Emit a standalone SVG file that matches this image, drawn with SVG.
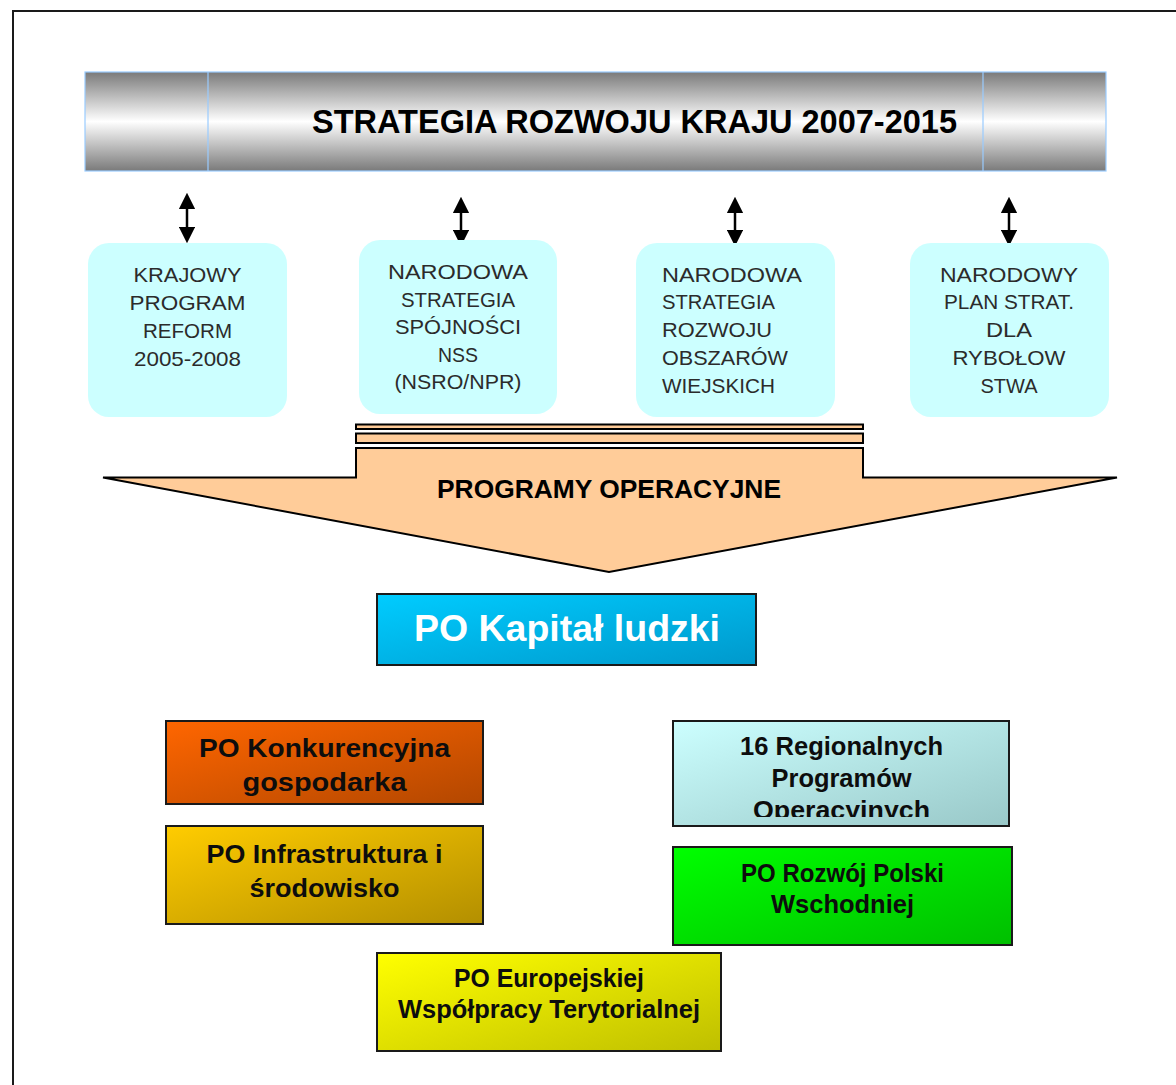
<svg xmlns="http://www.w3.org/2000/svg" width="1176" height="1085" viewBox="0 0 1176 1085">
  <defs>
    <linearGradient id="gBanner" x1="0" y1="0" x2="0" y2="1">
      <stop offset="0" stop-color="#7a7a7a"/>
      <stop offset="0.5" stop-color="#ffffff"/>
      <stop offset="1" stop-color="#7a7a7a"/>
    </linearGradient>
    <linearGradient id="gKapital" x1="0" y1="0" x2="1" y2="1">
      <stop offset="0" stop-color="#00ccff"/>
      <stop offset="1" stop-color="#0099cc"/>
    </linearGradient>
    <linearGradient id="gKonk" x1="0" y1="0" x2="1" y2="1">
      <stop offset="0" stop-color="#ff6600"/>
      <stop offset="1" stop-color="#b34700"/>
    </linearGradient>
    <linearGradient id="gInfra" x1="0" y1="0" x2="1" y2="1">
      <stop offset="0" stop-color="#ffcc00"/>
      <stop offset="1" stop-color="#b38f00"/>
    </linearGradient>
    <linearGradient id="gRegion" x1="0" y1="0" x2="1" y2="1">
      <stop offset="0" stop-color="#ccffff"/>
      <stop offset="1" stop-color="#99c8c8"/>
    </linearGradient>
    <linearGradient id="gWschod" x1="0" y1="0" x2="1" y2="1">
      <stop offset="0" stop-color="#00ff00"/>
      <stop offset="1" stop-color="#00bf00"/>
    </linearGradient>
    <linearGradient id="gEurop" x1="0" y1="0" x2="1" y2="1">
      <stop offset="0" stop-color="#ffff00"/>
      <stop offset="1" stop-color="#bfbf00"/>
    </linearGradient>
    <marker id="head" viewBox="0 0 10 10" refX="5" refY="5" markerWidth="6.6" markerHeight="6.6" orient="auto-start-reverse" markerUnits="strokeWidth">
      <path d="M0,0 L10,5 L0,10 Z" fill="#000"/>
    </marker>
    <clipPath id="clipKonk"><rect x="166" y="721" width="317" height="75"/></clipPath>
    <clipPath id="clipRegion"><rect x="673" y="721" width="336" height="96"/></clipPath>
  </defs>
  <style>
    .page { fill: none; stroke: #1a1a1a; stroke-width: 2; }
    .soft { fill: #ccffff; }
    .soft-t { font-family: "Liberation Sans", Arial, sans-serif; font-size: 21px; fill: #2b2b2b; }
    .bold { font-family: "Liberation Sans", Arial, sans-serif; font-weight: bold; fill: #000; }
    .po { stroke: #1a1a1a; stroke-width: 2; }
    .po-t { font-family: "Liberation Sans", Arial, sans-serif; font-weight: bold; font-size: 25px; fill: #0d0d0d; text-anchor: middle; }
    .link { stroke: #000; stroke-width: 2.5; fill: none; marker-start: url(#head); marker-end: url(#head); }
    .arrow { fill: #ffcc99; stroke: #000; stroke-width: 2; stroke-linejoin: miter; }
  </style>

  <!-- page frame (top and left edges) -->
  <path class="page" d="M13,1085 L13,11 L1176,11"/>

  <!-- strategy banner -->
  <g id="strategia">
    <rect x="85" y="72" width="1021" height="99" fill="url(#gBanner)" stroke="#99ccff" stroke-width="1.2"/>
    <line x1="208" y1="72" x2="208" y2="171" stroke="#99ccff" stroke-width="1.2"/>
    <line x1="983" y1="72" x2="983" y2="171" stroke="#99ccff" stroke-width="1.2"/>
    <text class="bold" x="312" y="133" font-size="33" textLength="645" lengthAdjust="spacingAndGlyphs">STRATEGIA ROZWOJU KRAJU 2007-2015</text>
  </g>

  <!-- double-headed links between banner and programme boxes -->
  <g id="connectors">
    <line class="link" x1="187" y1="201" x2="187" y2="235"/>
    <line class="link" x1="461" y1="205" x2="461" y2="238"/>
    <line class="link" x1="735" y1="205" x2="735" y2="238"/>
    <line class="link" x1="1009" y1="205" x2="1009" y2="238"/>
  </g>

  <g id="krajowy-program">
    <rect class="soft" x="88" y="243" width="199" height="174" rx="21"/>
    <g class="soft-t" text-anchor="middle">
      <text x="187.5" y="282" textLength="108" lengthAdjust="spacingAndGlyphs">KRAJOWY</text>
      <text x="187.5" y="310" textLength="116" lengthAdjust="spacingAndGlyphs">PROGRAM</text>
      <text x="187.5" y="338" textLength="89" lengthAdjust="spacingAndGlyphs">REFORM</text>
      <text x="187.5" y="366" textLength="107" lengthAdjust="spacingAndGlyphs">2005-2008</text>
    </g>
  </g>

  <g id="nss">
    <rect class="soft" x="359" y="240" width="198" height="174" rx="21"/>
    <g class="soft-t" text-anchor="middle">
      <text x="458" y="279" textLength="140" lengthAdjust="spacingAndGlyphs">NARODOWA</text>
      <text x="458" y="307" textLength="114" lengthAdjust="spacingAndGlyphs">STRATEGIA</text>
      <text x="458" y="334" textLength="126" lengthAdjust="spacingAndGlyphs">SPÓJNOŚCI</text>
      <text x="458" y="362" textLength="40" lengthAdjust="spacingAndGlyphs">NSS</text>
      <text x="458" y="389" textLength="127" lengthAdjust="spacingAndGlyphs">(NSRO/NPR)</text>
    </g>
  </g>

  <g id="obszary-wiejskie">
    <rect class="soft" x="636" y="243" width="199" height="174" rx="21"/>
    <g class="soft-t">
      <text x="662" y="282" textLength="140" lengthAdjust="spacingAndGlyphs">NARODOWA</text>
      <text x="662" y="309" textLength="113" lengthAdjust="spacingAndGlyphs">STRATEGIA</text>
      <text x="662" y="337" textLength="110" lengthAdjust="spacingAndGlyphs">ROZWOJU</text>
      <text x="662" y="365" textLength="126" lengthAdjust="spacingAndGlyphs">OBSZARÓW</text>
      <text x="662" y="393" textLength="113" lengthAdjust="spacingAndGlyphs">WIEJSKICH</text>
    </g>
  </g>

  <g id="rybolowstwo">
    <rect class="soft" x="910" y="243" width="199" height="174" rx="21"/>
    <g class="soft-t" text-anchor="middle">
      <text x="1009" y="282" textLength="138" lengthAdjust="spacingAndGlyphs">NARODOWY</text>
      <text x="1009" y="309" textLength="130" lengthAdjust="spacingAndGlyphs">PLAN STRAT.</text>
      <text x="1009" y="337" textLength="46" lengthAdjust="spacingAndGlyphs">DLA</text>
      <text x="1009" y="365" textLength="113" lengthAdjust="spacingAndGlyphs">RYBOŁOW</text>
      <text x="1009" y="393" textLength="57" lengthAdjust="spacingAndGlyphs">STWA</text>
    </g>
  </g>

  <!-- big downward arrow -->
  <g id="programy-operacyjne">
    <rect class="arrow" x="356" y="424.5" width="507" height="4.5"/>
    <rect class="arrow" x="356" y="433.5" width="507" height="9.5"/>
    <polygon class="arrow" points="103,477.5 356,477.5 356,448 863,448 863,477.5 1117,477.5 609,572"/>
    <text class="bold" x="437" y="498" font-size="26" textLength="344" lengthAdjust="spacingAndGlyphs">PROGRAMY OPERACYJNE</text>
  </g>

  <g id="po-kapital-ludzki">
    <rect class="po" x="377" y="594" width="379" height="71" fill="url(#gKapital)"/>
    <text x="567" y="641" font-family="Liberation Sans, Arial, sans-serif" font-weight="bold" font-size="37" fill="#ffffff" text-anchor="middle" textLength="306" lengthAdjust="spacingAndGlyphs">PO Kapitał ludzki</text>
  </g>

  <g id="po-konkurencyjna-gospodarka">
    <rect class="po" x="166" y="721" width="317" height="83" fill="url(#gKonk)"/>
    <g clip-path="url(#clipKonk)">
      <text class="po-t" x="324.5" y="757" textLength="251" lengthAdjust="spacingAndGlyphs">PO Konkurencyjna</text>
      <text class="po-t" x="324.5" y="791" textLength="164" lengthAdjust="spacingAndGlyphs">gospodarka</text>
    </g>
  </g>

  <g id="po-infrastruktura-srodowisko">
    <rect class="po" x="166" y="826" width="317" height="98" fill="url(#gInfra)"/>
    <text class="po-t" x="324.5" y="863" textLength="236" lengthAdjust="spacingAndGlyphs">PO Infrastruktura i</text>
    <text class="po-t" x="324.5" y="897" textLength="150" lengthAdjust="spacingAndGlyphs">środowisko</text>
  </g>

  <g id="regionalne-programy">
    <rect class="po" x="673" y="721" width="336" height="105" fill="url(#gRegion)"/>
    <g clip-path="url(#clipRegion)">
      <text class="po-t" x="841.5" y="755" textLength="203" lengthAdjust="spacingAndGlyphs">16 Regionalnych</text>
      <text class="po-t" x="841.5" y="787" textLength="140" lengthAdjust="spacingAndGlyphs">Programów</text>
      <text class="po-t" x="841.5" y="819" textLength="177" lengthAdjust="spacingAndGlyphs">Operacyjnych</text>
    </g>
  </g>

  <g id="po-rozwoj-polski-wschodniej">
    <rect class="po" x="673" y="847" width="339" height="98" fill="url(#gWschod)"/>
    <text class="po-t" x="842.5" y="882" textLength="203" lengthAdjust="spacingAndGlyphs">PO Rozwój Polski</text>
    <text class="po-t" x="842.5" y="913" textLength="143" lengthAdjust="spacingAndGlyphs">Wschodniej</text>
  </g>

  <g id="po-europejskiej-wspolpracy">
    <rect class="po" x="377" y="953" width="344" height="98" fill="url(#gEurop)"/>
    <text class="po-t" x="549" y="987" textLength="190" lengthAdjust="spacingAndGlyphs">PO Europejskiej</text>
    <text class="po-t" x="549" y="1018" textLength="302" lengthAdjust="spacingAndGlyphs">Współpracy Terytorialnej</text>
  </g>
</svg>
